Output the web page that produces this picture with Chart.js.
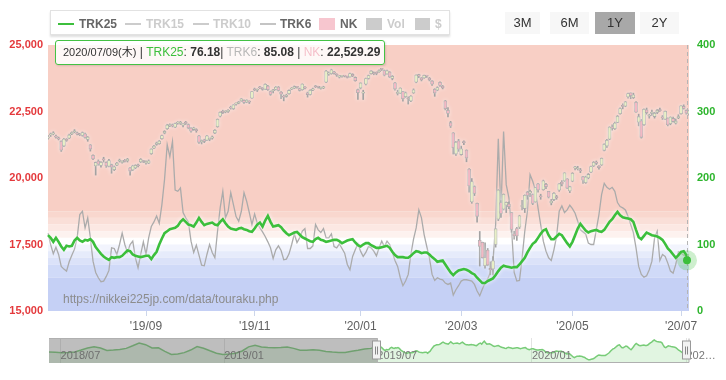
<!DOCTYPE html>
<html><head><meta charset="utf-8">
<script src="https://cdn.jsdelivr.net/npm/chart.js@4.4.1/dist/chart.umd.min.js"></script>
<style>
html,body{margin:0;padding:0;background:#fff;}
#wrap{position:relative;width:726px;height:380px;overflow:hidden;background:#fff;font-family:"Liberation Sans",Arial,"Noto Sans CJK JP",sans-serif;}
canvas{position:absolute;left:0;}
.a{position:absolute;white-space:nowrap;}
.lg{font-weight:bold;font-size:12px;line-height:12px;color:#666;}
.off{color:#cccccc;}
.btn{position:absolute;top:12px;height:22px;line-height:22px;text-align:center;font-size:13px;color:#333;background:#f7f7f7;}
</style></head>
<body>
<div id="wrap">
  <canvas id="main" width="726" height="336" style="top:0;width:726px;height:336px"></canvas>
  <canvas id="nav" width="726" height="50" style="top:330px;width:726px;height:50px"></canvas>

  <div class="a" style="left:50px;top:10px;width:400px;height:25px;box-sizing:border-box;border:1px solid #e2e2e2;background:#fff;box-shadow:0 2px 2px rgba(0,0,0,0.13);"></div>
  <div class="a" style="left:58px;top:23px;width:16px;height:2px;background:#3cbf3c"></div>
  <div class="a lg" style="left:79px;top:18px">TRK25</div>
  <div class="a" style="left:125px;top:23px;width:16px;height:2px;background:#cccccc"></div>
  <div class="a lg off" style="left:146px;top:18px">TRK15</div>
  <div class="a" style="left:193px;top:23px;width:16px;height:2px;background:#cccccc"></div>
  <div class="a lg off" style="left:213px;top:18px">TRK10</div>
  <div class="a" style="left:260px;top:23px;width:16px;height:2px;background:#c4c4c4"></div>
  <div class="a lg" style="left:280px;top:18px">TRK6</div>
  <div class="a" style="left:319px;top:18px;width:16px;height:12px;background:#f7c6cf"></div>
  <div class="a lg" style="left:340px;top:18px">NK</div>
  <div class="a" style="left:366px;top:18px;width:16px;height:12px;background:#cccccc"></div>
  <div class="a lg off" style="left:387px;top:18px">Vol</div>
  <div class="a" style="left:415px;top:18px;width:15px;height:12px;background:#cccccc"></div>
  <div class="a lg off" style="left:435px;top:18px">$</div>

  <div class="btn" style="left:505px;width:35px">3M</div>
  <div class="btn" style="left:550px;width:39px">6M</div>
  <div class="btn" style="left:595px;width:40px;background:#a8a8a8">1Y</div>
  <div class="btn" style="left:640px;width:39px">2Y</div>

  <div id="tip" class="a" style="left:55px;top:40px;width:330px;height:25px;box-sizing:border-box;border:1px solid #44c244;border-radius:3px;background:rgba(255,255,255,0.86);box-shadow:1px 1px 2px rgba(0,0,0,0.12);padding-left:7px;line-height:23px;font-size:12px;color:#333;"></div>

  <div class="a" style="left:63px;top:293px;font-size:12px;line-height:12px;color:#8c8c8c">https://nikkei225jp.com/data/touraku.php</div>
</div>
<script>
// ---------- data ----------
const lastDateLabel = '2020/07/09(木)';
const xTickIdx = [37, 78, 118, 156, 198, 239];
const xTickLabels = ["'19/09", "'19/11", "'20/01", "'20/03", "'20/05", "'20/07"];

const trk25 = [
114,110,104,110,104,97,92,98,97,98,
106,110,106,104,107,106,108,104,96,91,
86,82,79,77,81,80,81,81,83,87,
91,90,85,83,82,81,82,83,83,78,
84,89,100,109,117,120,123,124,125,128,
134,138,134,130,129,127,133,140,134,129,
131,132,133,130,129,134,138,132,127,124,
123,122,124,125,123,122,120,119,124,130,
133,127,136,143,134,127,128,129,126,121,
117,114,116,118,119,115,111,109,107,105,
104,108,110,107,106,104,105,106,107,107,
105,102,104,106,107,108,103,99,97,100,
102,102,99,97,95,95,96,97,98,95,
89,84,81,81,81,80,80,83,87,90,
89,87,88,88,85,81,78,74,75,76,
70,64,58,54,58,61,62,63,62,60,
57,55,50,46,42,42,45,47,49,54,
60,65,68,67,66,65,66,66,70,75,
80,88,95,101,104,110,116,121,123,114,
108,108,112,116,114,108,102,97,104,114,
124,131,126,121,118,120,121,122,120,119,
122,128,134,138,144,149,144,141,140,139,
138,134,122,111,108,113,118,116,114,113,
112,110,107,101,94,90,85,80,84,89,
90,84,76.18];

const trk6 = [
117,100,86,96,85,67,63,60,74,84,
93,110,145,150,125,140,110,75,58,50,
44,45,52,61,95,94,85,100,117,100,
88,100,105,80,65,85,104,85,110,127,
134,143,132,160,198,250,232,255,182,180,
185,148,140,134,105,88,99,84,69,68,
85,100,88,80,120,155,180,140,150,178,
160,142,135,150,178,165,148,130,146,132,
125,119,112,104,95,79,92,98,91,77,
78,86,100,116,103,110,120,124,94,94,
98,130,122,118,124,110,110,116,97,95,
101,94,87,70,62,82,92,101,90,82,
88,97,95,90,83,95,105,97,105,100,
88,76,67,50,38,45,55,85,108,125,
152,140,115,97,80,55,46,50,48,47,
42,40,42,24,32,38,45,47,47,46,
45,40,30,23,33,42,48,58,75,130,
259,150,270,190,170,125,58,45,46,80,
120,150,205,195,182,155,130,105,90,80,
76,92,112,150,158,148,152,159,154,147,
135,122,119,116,102,100,100,122,145,175,
192,186,183,186,180,163,157,155,152,142,
130,118,95,67,55,51,53,62,75,110,
120,76,85,82,72,60,57,70,89,87,
84,82,85.08];

const nkOpen = [
21500,21620,21660,21580,21500,21380,21200,21430,21500,21660,
21740,21690,21640,21600,21660,21450,21250,20850,20450,20640,
20470,20720,20590,20440,20500,20310,20480,20640,20590,20660,
20640,20380,20300,20380,20470,20600,20630,20570,20560,20910,
21120,21260,21290,21480,21690,21850,21970,21990,21910,22060,
22050,21990,22100,22010,21880,21820,21820,21590,21360,21430,
21420,21450,21500,21690,21930,22320,22520,22480,22500,22660,
22600,22780,22810,22900,22920,22850,22860,23000,23350,23300,
23410,23380,23340,23460,23250,23280,23330,23420,23230,23080,
23070,23170,23340,23380,23420,23360,23320,23410,23200,23140,
23310,23450,23420,23370,23390,23600,23900,23920,23990,23900,
23790,23820,23840,23820,23800,23900,23780,23320,23380,23190,
23530,23740,23920,23960,23950,24000,24090,24040,23910,23980,
23740,23580,23180,23190,23250,23060,23000,22900,23200,23600,
23890,23770,23760,23830,23760,23650,23340,23300,23600,23460,
22900,22550,22080,21700,20900,21400,20880,21330,21050,20340,
19100,19680,19050,17660,17580,16700,17290,16600,16580,17500,
18450,19080,18830,18980,19020,18700,17900,18100,18150,18930,
18850,19470,19430,19380,19100,19780,19300,19560,19760,19500,
19060,19190,19300,19540,19850,19890,19970,19510,19880,20380,
20340,20300,20050,19820,20000,20220,20450,20600,20450,20490,
21040,21200,21460,21890,21850,22090,22420,22730,22700,23050,
23200,23020,22850,22100,22150,22000,22560,22320,22430,22310,
22470,22560,22300,22210,22250,22040,22240,22060,22270,22420,
22700,22550,22410];

const nkClose = [
21533,21643,21686,21535,21469,21046,21466,21416,21620,21709,
21756,21658,21616,21709,21521,21540,21087,20720,20585,20516,
20593,20684,20455,20655,20405,20418,20563,20677,20618,20628,
20711,20261,20456,20479,20460,20704,20620,20625,20649,21085,
21199,21318,21392,21597,21759,21988,22001,21960,22044,22079,
22098,22020,22048,21878,21756,21885,21778,21341,21410,21375,
21587,21456,21551,21798,22207,22472,22451,22492,22548,22625,
22750,22799,22867,22974,22843,22927,22850,23251,23303,23330,
23391,23331,23520,23319,23141,23303,23416,23292,23148,23038,
23112,23292,23373,23437,23409,23293,23529,23379,23135,23300,
23354,23430,23410,23391,23424,24023,23952,24066,23934,23864,
23816,23821,23830,23782,23924,23837,23656,23204,23575,23204,
23739,23850,24025,23916,23933,24041,24083,23864,24031,23795,
23827,23343,23215,23379,22977,23205,22971,23084,23319,23873,
23827,23685,23861,23827,23687,23523,23193,23400,23479,23386,
22605,22426,21948,21142,21344,21082,21100,21329,20749,19698,
19867,19416,18559,17431,17002,17011,16726,16552,16887,18092,
19546,18665,19389,19084,18917,18065,17819,17820,18576,18950,
19353,19345,19499,19043,19638,19550,19290,19897,19669,19281,
19137,19429,19262,19783,19771,20193,19619,19674,20179,20390,
20366,20267,19915,20037,20134,20433,20595,20552,20388,20741,
21271,21419,21916,21877,22062,22325,22613,22695,22863,23178,
23091,23124,22473,22305,21530,22582,22456,22355,22479,22437,
22549,22534,22260,22512,21995,22288,22122,22146,22306,22714,
22614,22438,22529.29];

const nkHigh = [
21600,21690,21740,21610,21540,21400,21490,21480,21650,21740,
21820,21730,21680,21730,21690,21560,21260,20870,20600,20680,
20620,20780,20610,20700,20520,20450,20590,20710,20650,20700,
20740,20400,20480,20500,20520,20730,20660,20650,20680,21100,
21230,21350,21410,21610,21780,22020,22040,22030,22060,22120,
22130,22050,22130,22030,21900,21910,21850,21600,21430,21460,
21600,21500,21580,21820,22220,22490,22550,22530,22570,22700,
22760,22830,22880,22990,22940,22940,22900,23260,23380,23350,
23450,23400,23540,23480,23270,23330,23440,23440,23250,23120,
23150,23310,23400,23460,23450,23380,23540,23440,23230,23320,
23380,23480,23450,23420,23450,24050,23990,24090,24010,23920,
23850,23850,23860,23830,23940,23920,23800,23340,23580,23300,
23760,23870,24040,23990,23990,24070,24120,24060,24060,24000,
23850,23600,23300,23390,23260,23230,23050,23100,23350,23880,
23900,23780,23870,23860,23780,23660,23360,23430,23620,23480,
22920,22650,22130,21710,21380,21450,21200,21400,21060,20350,
19980,19700,19060,17990,17590,17560,17350,16850,17050,18100,
19560,19150,19400,19100,19100,18700,18000,18150,18600,19160,
19370,19500,19550,19400,19650,19800,19390,19920,19800,19500,
19200,19450,19350,19800,19900,20200,19980,19690,20200,20440,
20440,20360,20060,20070,20170,20450,20620,20640,20470,20750,
21290,21450,21930,22000,22100,22350,22640,22790,22880,23190,
23200,23190,22870,22400,22200,22600,22630,22400,22550,22470,
22580,22630,22350,22520,22260,22300,22290,22220,22380,22720,
22750,22560,22550];

const nkLow = [
21460,21560,21620,21500,21430,21000,21180,21380,21480,21630,
21700,21620,21590,21570,21500,21380,21010,20690,20110,20480,
20410,20600,20400,20420,20180,20280,20460,20600,20560,20600,
20600,20110,20280,20350,20420,20580,20580,20520,20540,20890,
21100,21230,21270,21460,21660,21830,21930,21920,21890,22020,
22010,21920,22010,21850,21720,21790,21720,21300,21280,21330,
21400,21400,21460,21670,21910,22300,22420,22450,22470,22590,
22580,22740,22790,22880,22800,22830,22800,22990,23280,23250,
23360,23300,23320,23290,23110,23200,23310,23270,22980,22900,
23040,23150,23320,23360,23380,23270,23300,23350,23040,23120,
23280,23400,23380,23340,23360,23580,23860,23900,23900,23820,
23760,23790,23800,23760,23790,23810,23640,22950,23350,22950,
23500,23720,23900,23880,23880,23970,24040,23840,23890,23770,
23690,23300,23120,23170,22890,23030,22780,22870,23180,23580,
23770,23650,23740,23780,23650,23480,23070,23280,23440,23350,
22560,22300,21900,20900,20850,21000,20860,21250,20610,19470,
19050,19340,18340,16690,16990,16610,16700,16360,16360,17400,
18400,18520,18800,18700,18850,17960,17700,17650,18100,18800,
18700,19200,19300,19000,19090,19470,19200,19540,19600,19250,
18990,19150,19200,19500,19700,19870,19600,19450,19860,20300,
20300,20200,19800,19800,19970,20200,20430,20500,20330,20470,
21020,21150,21440,21800,21830,22080,22400,22600,22680,23000,
22980,22990,22470,21960,21500,21980,22400,22250,22350,22250,
22420,22500,22200,22190,21960,22000,22100,22030,22230,22400,
22590,22400,22360];

// navigator: TRK25 of the preceding year, sampled every 5 trading days
const navPrevTrk25 = [
85,83,81,82,85,95,106,113,106,93,
95,98,104,118,133,124,106,107,88,71,
74,81,95,114,105,91,78,71,74,78,
90,112,121,112,109,108,109,111,104,94,
94,96,94,87,84,82,82,89,94,100,
104];
const navPrevStep = 5;
const navTickVals = [-246, -119, 0, 120, 240];
const navTickLabels = ['2018/07', '2019/01', '2019/07', '2020/01', '202…'];

// band levels on the ratio axis (right)
const bandLevels = [400, 150, 140, 130, 120, 110, 100, 90, 80, 70, 50, 0];

// ---------- styles ----------
const FONT = '"Liberation Sans", Arial, "Noto Sans CJK JP", sans-serif';
const bandColors = ['#f8cfc5','#f9d7ce','#fadfd8','#fce8e3','#fdf2ef','#ffffff','#f2f4fd','#e6ebfb','#dbe2f9','#d0daf8','#c5d0f5'];
const GREEN = '#3cbf3c';
const UP = '#e8efc6', DOWN = '#f2b8c4', CANDLE_LINE = '#a2a2a2';

Chart.defaults.font.family = FONT;
const last = trk25.length - 1;

// tooltip text from data
const fmt2 = v => v.toLocaleString('en-US', {minimumFractionDigits: 2, maximumFractionDigits: 2});
document.getElementById('tip').innerHTML =
  '<span style="font-size:11px">' + lastDateLabel + '</span> | ' +
  '<span style="color:' + GREEN + '">TRK25</span>: <b>' + fmt2(trk25[last]) + '</b>| ' +
  '<span style="color:#b8b8b8">TRK6</span>: <b>' + fmt2(trk6[last]) + '</b> | ' +
  '<span style="color:#f5bfca">NK</span>: <b>' + fmt2(nkClose[last]) + '</b>';

const glowPlugin = {
  id: 'glow',
  beforeDatasetDraw(chart, args) {
    const g = chart.data.datasets[args.index].glow;
    if (g) { chart.ctx.save(); chart.ctx.shadowColor = g; chart.ctx.shadowBlur = 4; }
  },
  afterDatasetDraw(chart, args) {
    if (chart.data.datasets[args.index].glow) chart.ctx.restore();
  }
};

const bandPlugin = {
  id: 'bands',
  beforeDatasetsDraw(chart) {
    const {ctx, chartArea: {left, right}, scales: {yR}} = chart;
    ctx.save();
    for (let k = 0; k < bandLevels.length - 1; k++) {
      const y1 = yR.getPixelForValue(bandLevels[k]);
      const y2 = yR.getPixelForValue(bandLevels[k + 1]);
      ctx.fillStyle = bandColors[k];
      ctx.fillRect(left, y1, right - left, y2 - y1);
    }
    ctx.restore();
  }
};

const hoverPlugin = {
  id: 'hoverMark',
  afterDatasetsDraw(chart) {
    const {ctx, chartArea: {top, bottom}} = chart;
    const pt = chart.getDatasetMeta(0).data[last];
    ctx.save();
    ctx.strokeStyle = '#b5b5b5'; ctx.lineWidth = 1; ctx.setLineDash([4, 3]);
    ctx.beginPath(); ctx.moveTo(Math.round(pt.x) - 1.5, top); ctx.lineTo(Math.round(pt.x) - 1.5, bottom); ctx.stroke();
    ctx.setLineDash([]);
    ctx.fillStyle = 'rgba(60,191,60,0.25)';
    ctx.beginPath(); ctx.arc(pt.x - 2, pt.y, 10, 0, Math.PI * 2); ctx.fill();
    ctx.fillStyle = GREEN;
    ctx.beginPath(); ctx.arc(pt.x - 2, pt.y, 4, 0, Math.PI * 2); ctx.fill();
    ctx.restore();
  }
};

new Chart(document.getElementById('main'), {
  type: 'line',
  data: {
    labels: trk25.map((_, i) => i),
    datasets: [
      { type: 'line', label: 'TRK25', data: trk25, yAxisID: 'yR', borderColor: GREEN, borderWidth: 2.6,
        pointRadius: 0, order: 0, glow: 'rgba(255,255,255,0.9)' },
      { type: 'bar', label: 'NK', data: nkOpen.map((o, i) => [o, nkClose[i]]), yAxisID: 'yL',
        backgroundColor: nkClose.map((c, i) => c >= nkOpen[i] ? UP : DOWN),
        borderColor: CANDLE_LINE, borderWidth: 0.8, borderSkipped: false, barThickness: 3,
        minBarLength: 1, grouped: false, order: 1, glow: 'rgba(255,255,255,1)' },
      { type: 'bar', label: 'NKwick', data: nkLow.map((l, i) => [l, nkHigh[i]]), yAxisID: 'yL',
        backgroundColor: CANDLE_LINE, borderWidth: 0, barThickness: 1, grouped: false, order: 2,
        glow: 'rgba(255,255,255,1)' },
      { type: 'line', label: 'TRK6', data: trk6, yAxisID: 'yR', borderColor: '#ababab', borderWidth: 1.3,
        pointRadius: 0, order: 3 }
    ]
  },
  options: {
    responsive: false, animation: false, events: [],
    layout: { padding: { top: 45, left: 0, right: 0, bottom: 0 } },
    plugins: { legend: { display: false }, tooltip: { enabled: false } },
    scales: {
      x: {
        type: 'category', offset: false,
        grid: { offset: false, display: true, drawOnChartArea: false, drawTicks: true, tickLength: 5, color: '#ccd6eb' },
        border: { display: false },
        ticks: { autoSkip: false, maxRotation: 0, padding: 3, color: '#606060', font: { size: 12 },
                 callback: (v, i) => xTickLabels[i] },
        afterBuildTicks: s => { s.ticks = xTickIdx.map(v => ({ value: v })); },
        afterFit: s => { s.height = 25; }
      },
      yL: {
        position: 'left', min: 15000, max: 25000,
        grid: { display: false, drawTicks: false }, border: { display: false },
        ticks: { stepSize: 2500, padding: 5, color: '#e4393c', font: { size: 11, weight: 'bold' },
                 callback: v => v.toLocaleString('en-US') },
        afterFit: s => { s.width = 48; }
      },
      yR: {
        position: 'right', min: 0, max: 400,
        grid: { display: false, drawTicks: false }, border: { display: false },
        ticks: { stepSize: 100, padding: 8, color: '#2db52d', font: { size: 11, weight: 'bold' } },
        afterFit: s => { s.width = 37; }
      }
    }
  },
  plugins: [bandPlugin, glowPlugin, hoverPlugin]
});

// ---------- navigator ----------
const navPoints = navPrevTrk25.map((v, k) => ({ x: (k - navPrevTrk25.length) * navPrevStep, y: v }))
  .concat(trk25.map((v, i) => ({ x: i, y: v })));

const navPlugin = {
  id: 'navMask',
  afterDraw(chart) {
    const {ctx, chartArea: {left, right, top, bottom}, scales: {x}} = chart;
    const x0 = x.getPixelForValue(0), x1 = x.getPixelForValue(last);
    ctx.save();
    ctx.fillStyle = 'rgba(100,100,100,0.42)';
    ctx.fillRect(left, top, x0 - left, bottom - top);
    ctx.strokeStyle = '#b0b0b0'; ctx.lineWidth = 1;
    ctx.beginPath();
    ctx.moveTo(left, top + 0.5); ctx.lineTo(x0, top + 0.5);
    ctx.lineTo(x0, bottom - 0.5); ctx.lineTo(x1, bottom - 0.5); ctx.lineTo(x1, top + 0.5); ctx.lineTo(right, top + 0.5);
    ctx.stroke();
    const mid = (top + bottom) / 2;
    [x0, x1 - 2].forEach(hx => {
      ctx.fillStyle = '#f2f2f2'; ctx.strokeStyle = '#999';
      ctx.fillRect(Math.round(hx) - 4.5, mid - 9.5, 8, 18);
      ctx.strokeRect(Math.round(hx) - 4.5, mid - 9.5, 8, 18);
      ctx.strokeStyle = '#888';
      ctx.beginPath();
      ctx.moveTo(Math.round(hx) - 1.5, mid - 4); ctx.lineTo(Math.round(hx) - 1.5, mid + 4);
      ctx.moveTo(Math.round(hx) + 0.5, mid - 4); ctx.lineTo(Math.round(hx) + 0.5, mid + 4);
      ctx.stroke();
    });
    ctx.restore();
  }
};

new Chart(document.getElementById('nav'), {
  type: 'line',
  data: { datasets: [{ data: navPoints, borderColor: '#78cc78', borderWidth: 1.5,
    backgroundColor: 'rgba(120,210,120,0.22)', fill: 'start', pointRadius: 0 }] },
  options: {
    responsive: false, animation: false, events: [],
    layout: { padding: { top: 8, left: 49, right: 37, bottom: 0 } },
    plugins: { legend: { display: false }, tooltip: { enabled: false } },
    scales: {
      x: {
        type: 'linear', min: (-navPrevTrk25.length) * navPrevStep, max: last,
        grid: { drawTicks: false, color: '#e3e3e3' }, border: { display: false },
        ticks: { autoSkip: false, maxRotation: 0, align: 'start', mirror: true, padding: 0, color: '#777', font: { size: 11 },
                 z: 1, callback: (v, i) => navTickLabels[i] },
        afterBuildTicks: s => { s.ticks = navTickVals.map(v => ({ value: v })); },
        afterFit: s => { s.height = 17; }
      },
      y: { display: false, min: 25, max: 160 }
    }
  },
  plugins: [navPlugin]
});
</script>
</body></html>
